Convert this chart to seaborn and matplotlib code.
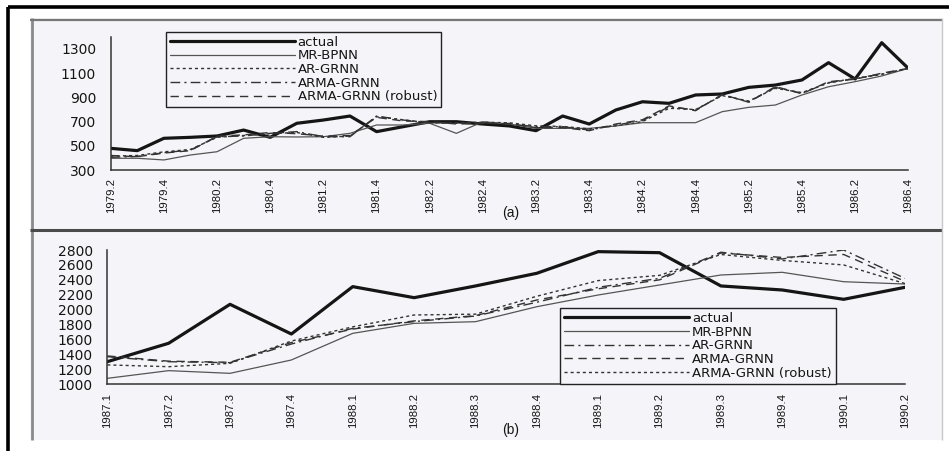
import matplotlib
matplotlib.use("Agg")
import matplotlib.pyplot as plt
import seaborn as sns
import numpy as np
from matplotlib.lines import Line2D
from matplotlib.patches import Rectangle

# ---------------- data: panel (a) ----------------
quarters_a = ["1979.2", "1979.3", "1979.4", "1980.1", "1980.2", "1980.3", "1980.4",
              "1981.1", "1981.2", "1981.3", "1981.4", "1982.1", "1982.2", "1982.3",
              "1982.4", "1983.1", "1983.2", "1983.3", "1983.4", "1984.1", "1984.2",
              "1984.3", "1984.4", "1985.1", "1985.2", "1985.3", "1985.4", "1986.1",
              "1986.2", "1986.3", "1986.4"]
actual_a = [479, 460, 562, 570, 581, 630, 570, 686, 713, 746, 617, 658, 699, 699, 680,
            664, 625, 746, 680, 796, 864, 851, 920, 928, 983, 1002, 1044, 1187, 1052,
            1352, 1140]
mr_bpnn_a = [397, 397, 383, 424, 451, 562, 575, 573, 575, 603, 672, 672, 686, 603, 699,
             680, 644, 644, 644, 664, 691, 691, 691, 782, 818, 837, 920, 988, 1030,
             1077, 1140]
ar_grnn_a = [415, 420, 450, 470, 570, 585, 600, 610, 570, 580, 740, 715, 690, 690, 695,
             690, 665, 660, 640, 665, 700, 810, 800, 915, 870, 975, 940, 1020, 1055,
             1090, 1140]
arma_grnn_a = [405, 412, 443, 465, 575, 581, 603, 617, 575, 575, 746, 713, 690, 686, 690,
               680, 658, 658, 630, 672, 708, 823, 796, 920, 864, 983, 934, 1022, 1058,
               1093, 1140]
arma_robust_a = [420, 410, 440, 460, 580, 590, 610, 600, 580, 585, 735, 705, 700, 680,
                 685, 685, 650, 650, 625, 680, 715, 830, 790, 925, 860, 990, 930, 1030,
                 1050, 1100, 1140]
yticks_a = [300, 500, 700, 900, 1100, 1300]

# ---------------- data: panel (b) ----------------
quarters_b = ["1987.1", "1987.2", "1987.3", "1987.4", "1988.1", "1988.2", "1988.3",
              "1988.4", "1989.1", "1989.2", "1989.3", "1989.4", "1990.1", "1990.2"]
actual_b = [1303, 1550, 2072, 1674, 2309, 2161, 2318, 2488, 2778, 2764, 2318, 2264, 2139, 2300]
mr_bpnn_b = [1080, 1183, 1147, 1326, 1683, 1817, 1839, 2040, 2197, 2331, 2465, 2501, 2375, 2344]
ar_grnn_b = [1370, 1303, 1290, 1540, 1750, 1840, 1915, 2100, 2300, 2420, 2770, 2680, 2800, 2420]
arma_grnn_b = [1380, 1310, 1295, 1560, 1740, 1850, 1920, 2130, 2280, 2400, 2760, 2700, 2740, 2380]
arma_robust_b = [1260, 1236, 1281, 1580, 1770, 1929, 1940, 2180, 2390, 2460, 2740, 2660, 2600, 2350]
yticks_b = [1000, 1200, 1400, 1600, 1800, 2000, 2200, 2400, 2600, 2800]

series_names = ["actual", "MR-BPNN", "AR-GRNN", "ARMA-GRNN", "ARMA-GRNN (robust)"]

# ---------------- styles ----------------
sns.set_style("white")
plt.rcParams['font.family'] = ['DejaVu Sans']

PAGE = '#f5f4f8'
INK = '#151515'
DOT = (0, (2.2, 2.2))
DASH = (0, (6, 4))
DASHDOT = (0, (7, 3, 1.5, 3))

styles_a = {
    "actual": dict(color=INK, linewidth=2.3, linestyle='-'),
    "MR-BPNN": dict(color='#555555', linewidth=0.9, linestyle='-'),
    "AR-GRNN": dict(color='#333333', linewidth=1.0, linestyle=DOT),
    "ARMA-GRNN": dict(color='#333333', linewidth=1.0, linestyle=DASHDOT),
    "ARMA-GRNN (robust)": dict(color='#333333', linewidth=1.0, linestyle=DASH),
}
styles_b = {
    "actual": dict(color=INK, linewidth=2.3, linestyle='-'),
    "MR-BPNN": dict(color='#555555', linewidth=0.9, linestyle='-'),
    "AR-GRNN": dict(color='#333333', linewidth=1.0, linestyle=DASHDOT),
    "ARMA-GRNN": dict(color='#333333', linewidth=1.0, linestyle=DASH),
    "ARMA-GRNN (robust)": dict(color='#333333', linewidth=1.0, linestyle=DOT),
}

W, H = 949, 451
fig = plt.figure(figsize=(W / 100, H / 100), dpi=100)
fig.patch.set_facecolor('white')


def fx(px):
    return px / W


def fy(py):
    return 1 - py / H


def fline(x0, y0, x1, y1, color, lw):
    fig.add_artist(Line2D([fx(x0), fx(x1)], [fy(y0), fy(y1)], transform=fig.transFigure,
                          color=color, linewidth=lw, solid_capstyle='butt', zorder=1))


# scanned page background
fig.add_artist(Rectangle((fx(30), fy(440)), fx(942) - fx(30), fy(18) - fy(440),
                         transform=fig.transFigure, facecolor=PAGE, edgecolor='none', zorder=0))
fline(32, 18, 32, 440, '#8a8a8a', 2.0)
fline(30, 19.5, 942, 19.5, '#777777', 1.6)
fline(30, 230, 942, 230, '#4a4a4a', 2.2)
fline(942, 18, 942, 440, '#c8c8c8', 1.0)
# outer black frame
fline(8, 7, 949, 7, 'black', 2.6)
fline(8, 7, 8, 451, 'black', 2.6)


def draw_panel(ax, labels, data, styles, ylim, yticks, every, legend_kw):
    x = np.arange(len(labels))
    for name, vals in zip(series_names, data):
        sns.lineplot(x=x, y=vals, ax=ax, label=name, legend=False, **styles[name])
    ax.set_facecolor('none')
    ax.set_xlim(0, len(labels) - 1)
    ax.set_ylim(*ylim)
    ax.set_yticks(yticks)
    ax.set_yticklabels([str(v) for v in yticks], fontsize=10, color=INK)
    ax.set_xticks(x)
    ax.set_xticklabels([l if i % every == 0 else '' for i, l in enumerate(labels)],
                       rotation=90, fontsize=8.2, family='Liberation Sans', color=INK)
    sns.despine(ax=ax)
    for s in ('left', 'bottom'):
        ax.spines[s].set_color('#333333')
        ax.spines[s].set_linewidth(1.1)
    ax.tick_params(axis='y', direction='inout', length=7, width=1, color='#333333', pad=7)
    ax.tick_params(axis='x', direction='inout', length=6, width=1, color='#333333', pad=3)
    ax.set_xlabel('')
    ax.set_ylabel('')
    leg = ax.legend(frameon=True, fancybox=False, edgecolor='#222222', facecolor=PAGE,
                    framealpha=1, fontsize=9.5, handlelength=9.5, handletextpad=0.2,
                    labelspacing=0.05, borderpad=0.3, borderaxespad=0, **legend_kw)
    leg.get_frame().set_linewidth(1.0)
    for t in leg.get_texts():
        t.set_color(INK)


ax_a = fig.add_axes([fx(110.7), fy(170), fx(908.3) - fx(110.7), fy(36.9) - fy(170)])
draw_panel(ax_a, quarters_a,
           [actual_a, mr_bpnn_a, ar_grnn_a, arma_grnn_a, arma_robust_a],
           styles_a, (300, 1400), yticks_a, 2,
           dict(loc='upper left', bbox_to_anchor=(0.069, 1.04)))

ax_b = fig.add_axes([fx(107.3), fy(384.3), fx(905) - fx(107.3), fy(250) - fy(384.3)])
draw_panel(ax_b, quarters_b,
           [actual_b, mr_bpnn_b, ar_grnn_b, arma_grnn_b, arma_robust_b],
           styles_b, (1000, 2800), yticks_b, 1,
           dict(loc='lower left', bbox_to_anchor=(0.5675, 0.005)))

fig.text(fx(511), fy(213), '(a)', ha='center', va='center', fontsize=10,
         family='Liberation Sans', color=INK)
fig.text(fx(511), fy(430), '(b)', ha='center', va='center', fontsize=10,
         family='Liberation Sans', color=INK)

fig.savefig('out.png', dpi=100, facecolor='white')
